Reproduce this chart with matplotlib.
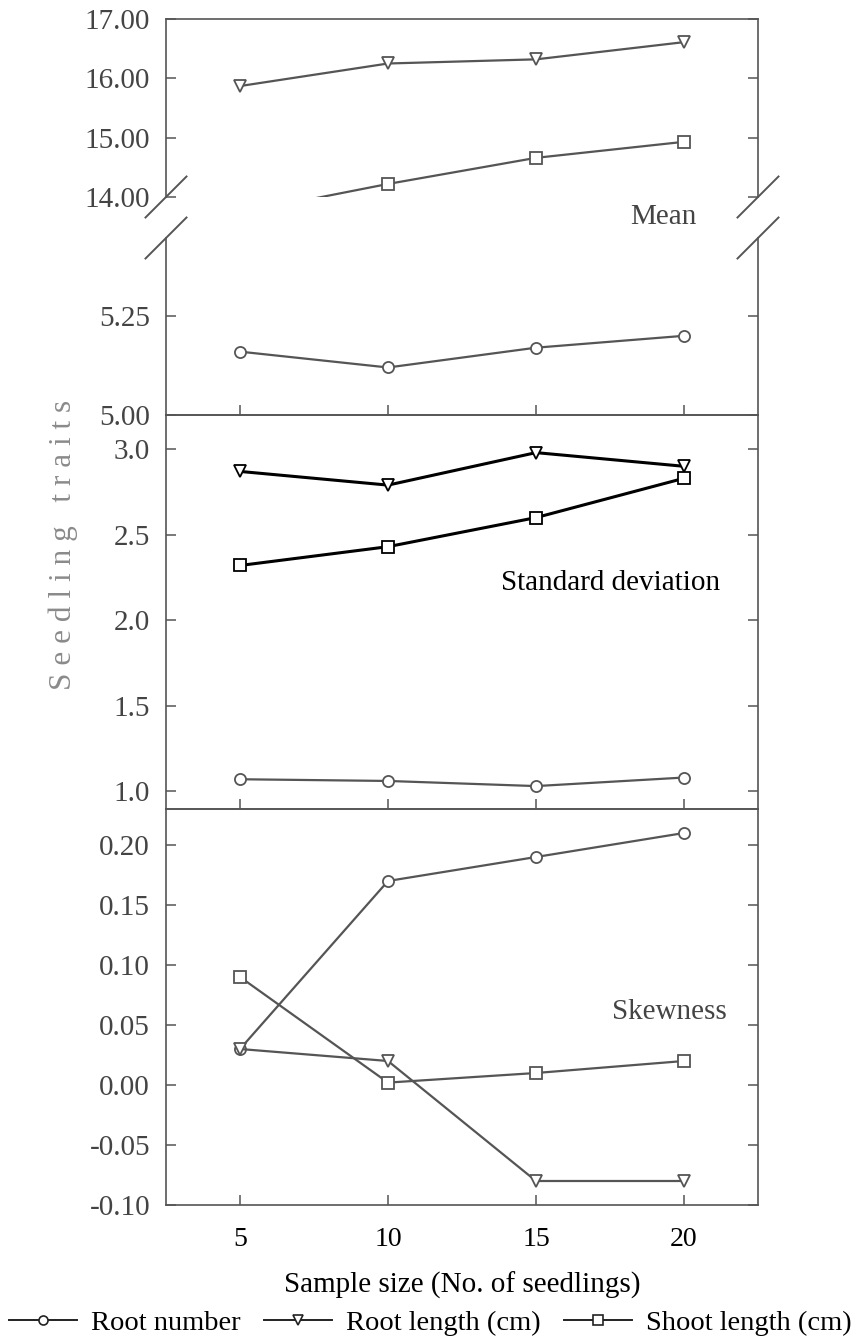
import matplotlib
matplotlib.use("Agg")
import matplotlib.pyplot as plt
from matplotlib.lines import Line2D

plt.rcParams['font.family'] = ['Liberation Serif', 'DejaVu Serif']

# ---------------- data ----------------
sample_sizes = [5, 10, 15, 20]
series_names = ["Root number", "Root length (cm)", "Shoot length (cm)"]

mean_root_number = [5.16, 5.12, 5.17, 5.20]
mean_root_length = [15.87, 16.25, 16.32, 16.61]
mean_shoot_length = [13.73, 14.22, 14.66, 14.93]

sd_root_number = [1.07, 1.06, 1.03, 1.08]
sd_root_length = [2.87, 2.79, 2.98, 2.90]
sd_shoot_length = [2.32, 2.43, 2.60, 2.83]

skew_root_number = [0.03, 0.17, 0.19, 0.21]
skew_root_length = [0.03, 0.02, -0.08, -0.08]
skew_shoot_length = [0.09, 0.002, 0.01, 0.02]

upper_ticks = [14.00, 15.00, 16.00, 17.00]
lower_ticks = [5.00, 5.25]
sd_ticks = [1.0, 1.5, 2.0, 2.5, 3.0]
skew_ticks = [-0.10, -0.05, 0.00, 0.05, 0.10, 0.15, 0.20]

# ---------------- layout ----------------
W, H = 861, 1336
fig = plt.figure(figsize=(W / 100, H / 100), dpi=100)

def rect(top_px, bot_px, left_px=166, right_px=758):
    return [left_px / W, 1 - bot_px / H, (right_px - left_px) / W, (bot_px - top_px) / H]

ax_up = fig.add_axes(rect(19, 197))
ax_lo = fig.add_axes(rect(238, 415))
ax_sd = fig.add_axes(rect(415, 809))
ax_sk = fig.add_axes(rect(809, 1205))

GRAY = '#555555'
TXT = '#444444'
FS = 21
markers = ['o', 'v', 's']

for ax in (ax_up, ax_lo, ax_sd, ax_sk):
    ax.set_xlim(2.5, 22.5)
    ax.set_xticks(sample_sizes)
    ax.tick_params(axis='both', direction='in', length=7, width=1.1,
                   color=GRAY, labelsize=FS, labelcolor=TXT, pad=11.5,
                   right=True, top=False)
    ax.tick_params(axis='x', labelbottom=False)
    for s in ax.spines.values():
        s.set_color(GRAY)
        s.set_linewidth(1.2)
    ax.set_facecolor('none')

def plot_series(ax, y, m, color=GRAY, lw=1.6):
    ax.plot(sample_sizes, y, color=color, lw=lw, marker=m, ms=8,
            mfc='white', mec=color, mew=1.3)

# Mean panel (broken axis)
ax_up.set_ylim(14.0, 17.0)
ax_up.set_yticks(upper_ticks)
ax_up.set_yticklabels([f"{v:.2f}" for v in upper_ticks])
ax_up.spines['bottom'].set_visible(False)
ax_up.tick_params(axis='x', bottom=False)
plot_series(ax_up, mean_root_length, 'v')
plot_series(ax_up, mean_shoot_length, 's')

ax_lo.set_ylim(5.0, 5.447)
ax_lo.set_yticks(lower_ticks)
ax_lo.set_yticklabels([f"{v:.2f}" for v in lower_ticks])
ax_lo.spines['top'].set_visible(False)
plot_series(ax_lo, mean_root_number, 'o')

# break marks
def slash(ax, xa, ya, w_px=592):
    bb = ax.get_position()
    hp = bb.height * H
    dx = 20.5 / w_px
    dy = 20.5 / hp
    ax.plot([xa - dx, xa + dx], [ya - dy, ya + dy], transform=ax.transAxes,
            color=GRAY, lw=1.4, clip_on=False)

for xa in (0, 1):
    slash(ax_up, xa, 0)
    slash(ax_lo, xa, 1)

# SD panel
ax_sd.set_ylim(0.896, 3.2)
ax_sd.set_yticks(sd_ticks)
ax_sd.set_yticklabels([f"{v:.1f}" for v in sd_ticks])
plot_series(ax_sd, sd_root_length, 'v', color='black', lw=2.2)
plot_series(ax_sd, sd_shoot_length, 's', color='black', lw=2.2)
plot_series(ax_sd, sd_root_number, 'o')

# Skewness panel
ax_sk.set_ylim(-0.10, 0.23)
ax_sk.set_yticks(skew_ticks)
ax_sk.set_yticklabels([f"{v:.2f}".replace('\u2212', '-') for v in skew_ticks])
plot_series(ax_sk, skew_root_number, 'o')
plot_series(ax_sk, skew_root_length, 'v')
plot_series(ax_sk, skew_shoot_length, 's')
ax_sk.tick_params(axis='x', labelbottom=True, labelcolor='black', pad=16, labelsize=20)
ax_sk.set_xlabel("Sample size (No. of seedlings)", fontsize=21, color='black', labelpad=14)

# panel titles
fig.text(663 / W, 1 - 217 / H, "Mean", ha='center', va='center', fontsize=FS, color=TXT)
ax_sd.text(611 / W, 1 - 583 / H, "Standard deviation", transform=fig.transFigure,
           ha='center', va='center', fontsize=FS, color='black')
ax_sk.text(669 / W, 1 - 1012 / H, "Skewness", transform=fig.transFigure,
           ha='center', va='center', fontsize=FS, color=TXT)

# y label
fig.text(63 / W, 1 - 545 / H, " ".join("Seedling") + "   " + " ".join("traits"),
         rotation=90, ha='center', va='center', fontsize=22.5, color='#8a8a8a')

# legend
handles = [Line2D([], [], color='#222222', lw=1.4, marker=m, ms=6.5, mfc='white',
                  mec='#222222', mew=1.2) for m in markers]
fig.legend(handles, series_names, loc='center', bbox_to_anchor=(0.5, 1 - 1323 / H),
           ncol=3, frameon=False, fontsize=20.5, handlelength=2.4, handletextpad=0.5,
           columnspacing=0.8, borderaxespad=0, borderpad=0)

fig.savefig("out.png", dpi=100, facecolor='white')
